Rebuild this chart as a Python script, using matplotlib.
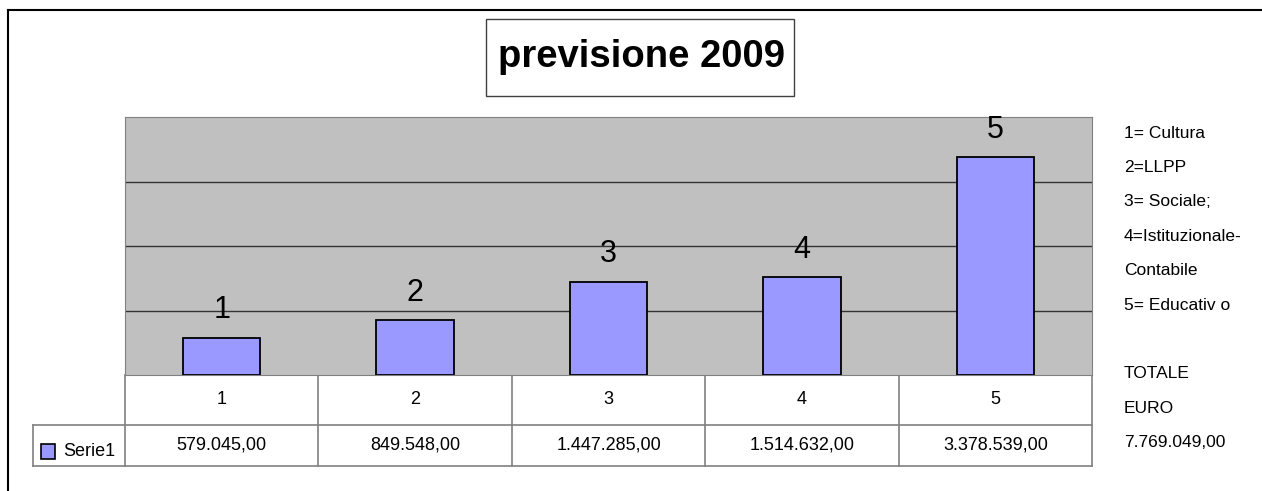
import matplotlib.pyplot as plt
from matplotlib.lines import Line2D
from matplotlib.patches import Rectangle

plt.rcParams['font.family'] = ['Liberation Sans', 'DejaVu Sans']

# data
categories = ['1', '2', '3', '4', '5']
values = [579045.00, 849548.00, 1447285.00, 1514632.00, 3378539.00]
series_name = 'Serie1'
notes = ['1= Cultura', '2=LLPP', '3= Sociale;', '4=Istituzionale-', 'Contabile',
         '5= Educativ o', '', 'TOTALE', 'EURO', '7.769.049,00']
title = 'previsione 2009'


def it_format(v):
    # 1,447,285.00 -> 1.447.285,00
    s = f'{v:,.2f}'
    return s.replace(',', '#').replace('.', ',').replace('#', '.')


W, H = 1262, 491
fig = plt.figure(figsize=(W / 100, H / 100), dpi=100)

# overlay in pixel coords for frame, title box, table
over = fig.add_axes([0, 0, 1, 1])
over.set_xlim(0, W)
over.set_ylim(H, 0)
over.axis('off')

# outer frame (only top and left visible)
over.add_line(Line2D([8, W], [10, 10], color='black', lw=1.5))
over.add_line(Line2D([8, 8], [10, H], color='black', lw=1.5))

# title box
over.add_patch(Rectangle((486, 19), 308, 77, facecolor='white',
                         edgecolor='#404040', lw=1))
over.text(641, 57, title, fontsize=27.5, fontweight='bold',
          ha='center', va='center')

# plot area
px0, px1, py0, py1 = 125, 1092, 117, 375
ax = fig.add_axes([px0 / W, 1 - py1 / H, (px1 - px0) / W, (py1 - py0) / H])
ax.set_facecolor('#C0C0C0')
x = list(range(len(categories)))
ax.bar(x, values, width=0.40, color='#9999FF', edgecolor='black', lw=1.3,
       zorder=3)
ax.set_xlim(-0.5, len(categories) - 0.5)
ax.set_ylim(0, 4000000)
ax.set_yticks([1000000, 2000000, 3000000])
ax.grid(axis='y', color='#333333', lw=1, zorder=1)
ax.tick_params(left=False, bottom=False, labelleft=False, labelbottom=False)
for s in ax.spines.values():
    s.set_color('#808080')
for xi, v, c in zip(x, values, categories):
    ax.annotate(c, (xi, v), xytext=(0, 14), textcoords='offset points',
                ha='center', va='baseline', fontsize=22)

# data table below the plot
col_w = (px1 - px0) / len(categories)
row1_y0, row1_y1 = 375, 425
row2_y0, row2_y1 = 425, 466
leg_x0 = 33
tc = '#808080'
over.add_line(Line2D([px0, px0], [row1_y0, row2_y1], color=tc, lw=1.2))
for i in range(1, len(categories) + 1):
    xb = px0 + i * col_w
    over.add_line(Line2D([xb, xb], [row1_y0, row2_y1], color=tc, lw=1.2))
over.add_line(Line2D([leg_x0, px1], [row2_y0, row2_y0], color=tc, lw=1.2))
over.add_line(Line2D([leg_x0, px1], [row2_y1, row2_y1], color=tc, lw=1.2))
over.add_line(Line2D([leg_x0, leg_x0], [row2_y0, row2_y1], color=tc, lw=1.2))

for i, (c, v) in enumerate(zip(categories, values)):
    cx = px0 + (i + 0.5) * col_w
    over.text(cx, (row1_y0 + row1_y1) / 2, c, fontsize=13,
              ha='center', va='center')
    over.text(cx, (row2_y0 + row2_y1) / 2, it_format(v), fontsize=13,
              ha='center', va='center')

# legend key in table
over.add_patch(Rectangle((41, 444), 14, 15, facecolor='#9999FF',
                         edgecolor='black', lw=1.2))
over.text(63, 452, series_name, fontsize=13, ha='left', va='center')

# notes on the right
for k, t in enumerate(notes):
    over.text(1124, 133 + k * 34.4, t, fontsize=12.5, ha='left', va='center')

fig.savefig('out.png', dpi=100)
